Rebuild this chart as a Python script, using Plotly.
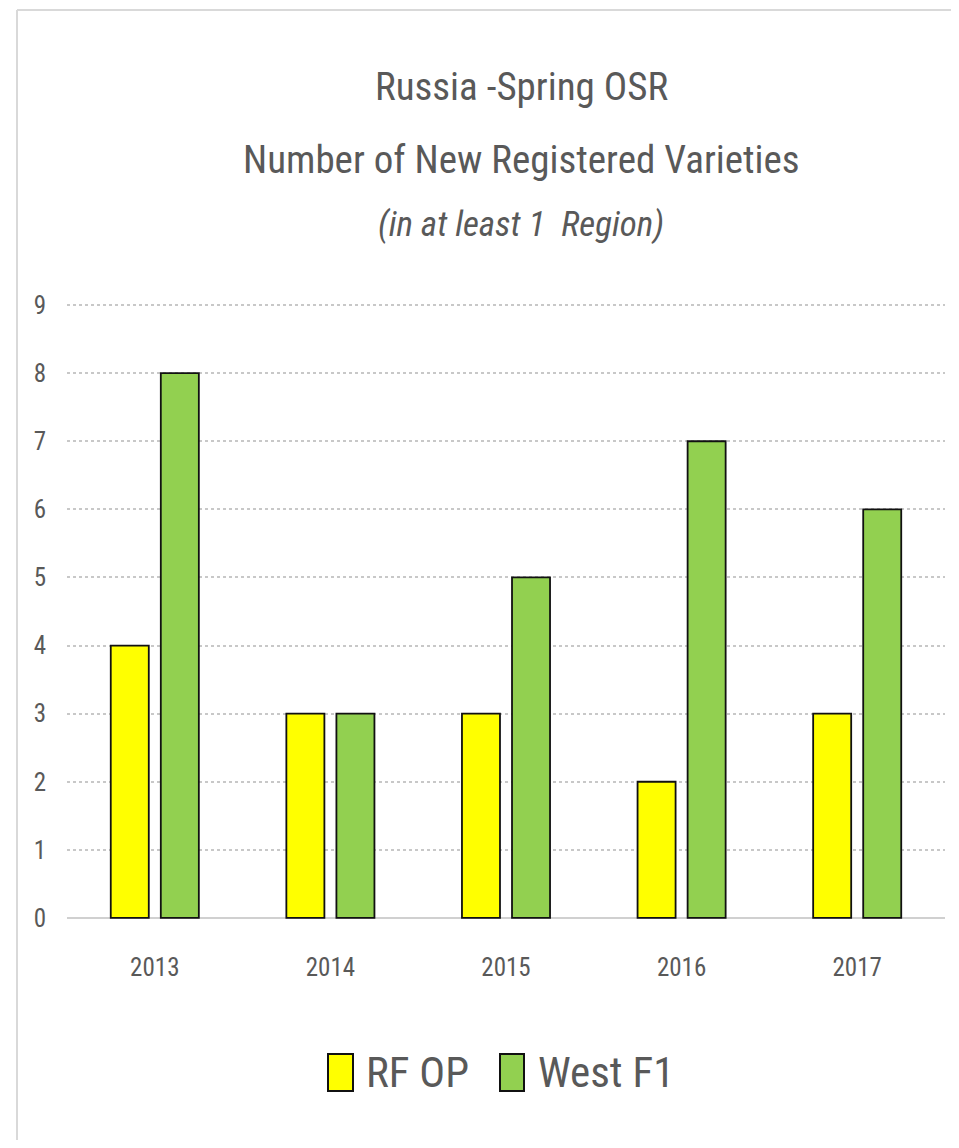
import plotly.graph_objects as go

years = ["2013", "2014", "2015", "2016", "2017"]
rf_op = [4, 3, 3, 2, 3]
west_f1 = [8, 3, 5, 7, 6]
series_names = ["RF OP", "West F1"]
series_colors = ["#FFFF00", "#92D050"]
y_ticks = list(range(0, 10))

FONT = "Roboto Condensed, Liberation Sans, sans-serif"
TXT = "#595959"

OFF = 8  # page body margin offset
W, H = 959 - OFF, 1148 - 2 * OFF
L, R, T, B = 59, 14, 295, 220
PW, PH = W - L - R, H - T - B


def px(x):
    # x in reference-screenshot pixels -> paper
    return (x - OFF - L) / PW


def py(y):
    return (H - B - (y - OFF)) / PH


fig = go.Figure()
for name, vals, col in zip(series_names, [rf_op, west_f1], series_colors):
    fig.add_trace(go.Bar(
        x=years, y=vals, name=name,
        marker=dict(color=col, line=dict(color="#111111", width=1.8)),
        showlegend=False,
    ))

fig.update_layout(
    width=W, height=H,
    margin=dict(l=L, r=R, t=T, b=B),
    paper_bgcolor="white", plot_bgcolor="white",
    barmode="group", bargap=0.43, bargroupgap=0.24,
    font=dict(family=FONT, color=TXT),
)
fig.update_xaxes(
    type="category", showgrid=False, showline=False, ticks="",
    tickfont=dict(size=25, color=TXT, family=FONT), ticklabelstandoff=30,
)
fig.update_yaxes(
    range=[-0.03, 9.03], tickvals=y_ticks, showline=False,
    zeroline=True, zerolinecolor="#D0D0D0", zerolinewidth=2,
    showgrid=True, gridcolor="#C8C8C8", gridwidth=2, griddash="dot",
    tickfont=dict(size=25, color=TXT, family=FONT), ticklabelstandoff=20,
)

# Title lines
titles = [
    ("Russia -Spring OSR", 87, False, 39),
    ("Number of New Registered Varieties", 160, False, 39),
    ("(in at least 1  Region)", 225, True, 35),
]
for text, ycen, ital, size in titles:
    fig.add_annotation(
        x=px(521), y=py(ycen), xref="paper", yref="paper",
        text=f"<i>{text}</i>" if ital else text, showarrow=False,
        xanchor="center", yanchor="middle",
        font=dict(size=size, color=TXT, family=FONT),
    )

# Chart border (only top and left edges are visible in the crop)
border = dict(color="#D9D9D9", width=2)
fig.add_shape(type="line", xref="paper", yref="paper",
              x0=px(17), x1=px(1000), y0=py(10), y1=py(10), line=border, layer="below")
fig.add_shape(type="line", xref="paper", yref="paper",
              x0=px(17), x1=px(17), y0=py(10), y1=py(1200), line=border, layer="below")

# Legend
leg = [(328, 353, 364), (500, 524, 536)]
for (x0, x1, tx), name, col in zip(leg, series_names, series_colors):
    fig.add_shape(type="rect", xref="paper", yref="paper",
                  x0=px(x0), x1=px(x1), y0=py(1054), y1=py(1091),
                  line=dict(color="#111111", width=2), fillcolor=col)
    fig.add_annotation(
        x=px(tx), y=py(1072), xref="paper", yref="paper", text=name,
        showarrow=False, xanchor="left", yanchor="middle",
        font=dict(size=43, color=TXT, family=FONT),
    )

fig.write_html("out.html")
